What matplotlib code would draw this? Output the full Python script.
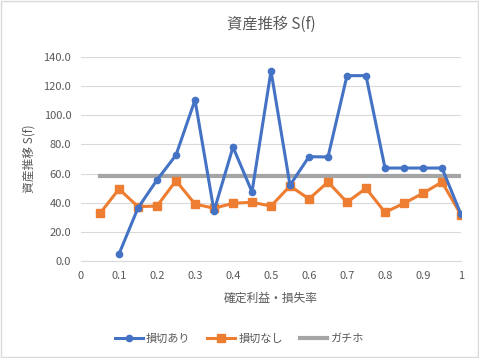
import matplotlib.pyplot as plt
from matplotlib.patches import Rectangle

plt.rcParams['font.family'] = ['Noto Sans CJK JP', 'DejaVu Sans']

# data
x_cut = [0.1, 0.15, 0.2, 0.25, 0.3, 0.35, 0.4, 0.45, 0.5, 0.55,
         0.6, 0.65, 0.7, 0.75, 0.8, 0.85, 0.9, 0.95, 1.0]
with_cut = [4.8, 36.4, 55.6, 72.7, 110.5, 34.3, 78.2, 47.4, 130.4, 52.0,
            71.6, 71.4, 127.2, 127.2, 63.8, 63.8, 63.8, 63.8, 32.0]

x_all = [0.05, 0.1, 0.15, 0.2, 0.25, 0.3, 0.35, 0.4, 0.45, 0.5,
         0.55, 0.6, 0.65, 0.7, 0.75, 0.8, 0.85, 0.9, 0.95, 1.0]
no_cut = [32.7, 49.4, 37.3, 37.7, 55.1, 39.1, 36.2, 39.6, 40.3, 37.7,
          51.5, 42.6, 54.2, 40.3, 49.9, 33.4, 39.6, 46.5, 54.2, 31.6]
hodl = [58.3] * len(x_all)

labels = ['損切あり', '損切なし', 'ガチホ']
text_col = '#595959'

fig = plt.figure(figsize=(4.79, 3.58), dpi=100)
ax = fig.add_axes([81 / 479, 1 - 261 / 358, 380 / 479, 204 / 358])

ax.plot(x_all, hodl, color='#A5A5A5', lw=3.0, label=labels[2], zorder=2)
ax.plot(x_all, no_cut, color='#ED7D31', lw=2.2, marker='s', ms=5.5,
        label=labels[1], zorder=3)
ax.plot(x_cut, with_cut, color='#4472C4', lw=2.2, marker='o', ms=4.5,
        label=labels[0], zorder=4)

ax.set_xlim(0, 1)
ax.set_ylim(0, 140)
ax.set_yticks(range(0, 141, 20))
ax.set_yticklabels([f'{v:.1f}' for v in range(0, 141, 20)])
xt = [i / 10 for i in range(11)]
ax.set_xticks(xt)
ax.set_xticklabels(['0'] + [f'{v:.1f}' for v in xt[1:-1]] + ['1'])

ax.grid(axis='y', color='#D9D9D9', lw=0.8)
ax.set_axisbelow(True)
for s in ['top', 'right', 'left']:
    ax.spines[s].set_visible(False)
ax.spines['bottom'].set_color('#D9D9D9')
ax.tick_params(length=0, labelsize=8, colors=text_col, pad=7)

ax.set_title('資産推移 S(f)', fontsize=11, color=text_col, pad=20)
ax.set_xlabel('確定利益・損失率', fontsize=8.5, color=text_col, labelpad=8)
ax.set_ylabel('資産推移 S(f)', fontsize=8.5, color=text_col, labelpad=6)

h, l = ax.get_legend_handles_labels()
order = [2, 1, 0]
fig.legend([h[i] for i in order], [l[i] for i in order], loc='center',
           bbox_to_anchor=(0.5, 1 - 339 / 358), ncol=3, frameon=False,
           fontsize=8, labelcolor=text_col, handlelength=2.5,
           columnspacing=1.5, handletextpad=0.3)

fig.patches.append(Rectangle((0.002, 0.002), 0.995, 0.995, transform=fig.transFigure,
                             fill=False, edgecolor='#D9D9D9', lw=1))

fig.savefig('out.png', dpi=100)
